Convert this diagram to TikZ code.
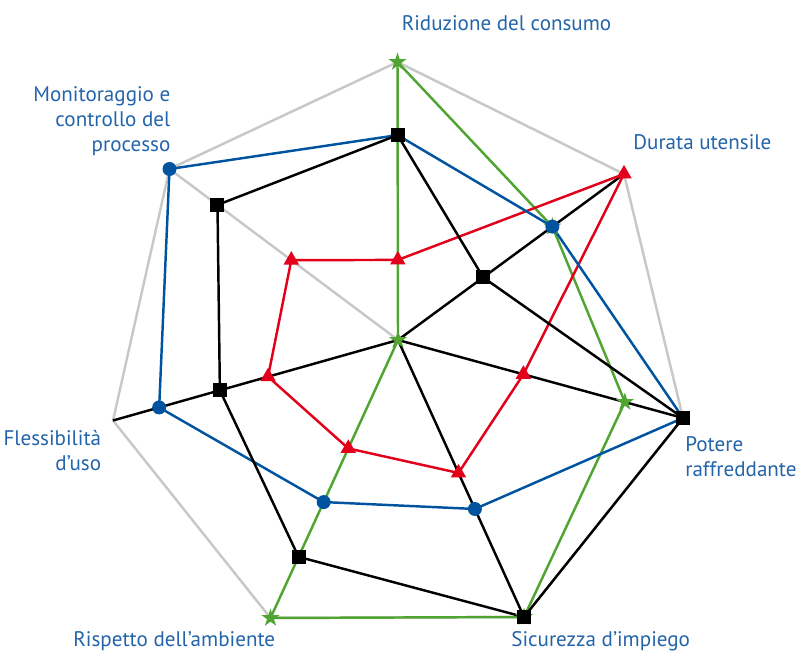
\documentclass[tikz,border=0pt]{standalone}
\usepackage{fontspec}
\setmainfont{PT Sans}
\usetikzlibrary{calc,shapes.geometric}
\definecolor{seriesblue}{RGB}{0,84,159}
\definecolor{seriesred}{RGB}{226,0,26}
\definecolor{seriesgreen}{RGB}{80,165,50}
\definecolor{gridgray}{RGB}{200,200,200}
\definecolor{labelblue}{RGB}{35,100,170}

\begin{document}
\begin{tikzpicture}[x=0.02cm,y=-0.02cm,line join=round,
    grid/.style={gridgray,line width=1.4pt},
    serie/.style={line width=1.4pt},
    sq/.style={rectangle,fill=black,minimum size=0.28cm,inner sep=0pt},
    dot/.style={circle,fill=seriesblue,minimum size=0.28cm,inner sep=0pt},
    tri/.style={regular polygon,regular polygon sides=3,fill=seriesred,minimum size=0.36cm,inner sep=0pt},
    stern/.style={star,star points=5,star point ratio=2.6,fill=seriesgreen,minimum size=0.38cm,inner sep=0pt},
    lab/.style={text=labelblue,font=\fontsize{12}{14.2}\selectfont,inner sep=0pt}]
    \useasboundingbox (0,0) rectangle (800,651);
    %axes
    \coordinate (O) at (398,340);
    \coordinate (A0) at (397.5,62);
    \coordinate (A1) at (624,174);
    \coordinate (A2) at (683,418);
    \coordinate (A3) at (524,617);
    \coordinate (A4) at (270.5,618);
    \coordinate (A5) at (113,420.5);
    \coordinate (A6) at (169.5,169);
    \draw[grid] (A0)--(A1)--(A2)--(A3)--(A4)--(A5)--(A6)--cycle;
    \draw[grid] (O)--(A6);
    \foreach \k in {1,2,3,5} \draw[serie] (O)--(A\k);
    %labels (base = last line)
    \node[lab,anchor=base] (consumo) at (506.5,31) {Riduzione del consumo};
    \node[lab,anchor=base west] (durata) at (633,150) {Durata utensile};
    \node[lab,anchor=base west,align=left] (potere) at (685,476.5) {Potere\\raffreddante};
    \node[lab,anchor=base west] (sicurezza) at (511,646) {Sicurezza d’impiego};
    \node[lab,anchor=base west] (ambiente) at (73,646) {Rispetto dell’ambiente};
    \node[lab,anchor=base east,align=right] (flessibilita) at (101.5,470.5) {Flessibilità\\d’uso};
    \node[lab,anchor=base east,align=right] (monitoraggio) at (170.7,151.7) {Monitoraggio e\\controllo del\\processo};
    %green
    \coordinate (g0) at (A0);
    \coordinate (g1) at ($(O)!0.683!(A1)$);
    \coordinate (g2) at ($(O)!0.796!(A2)$);
    \coordinate (g3) at (A3);
    \coordinate (g4) at (A4);
    \coordinate (g5) at (O);
    \draw[serie,seriesgreen] (g0)--(g1)--(g2)--(g3)--(g4)--(g5)--cycle;
    %red
    \coordinate (r0) at ($(O)!0.288!(A0)$);
    \coordinate (r1) at (A1);
    \coordinate (r2) at ($(O)!0.44!(A2)$);
    \coordinate (r3) at ($(O)!0.48!(A3)$);
    \coordinate (r4) at ($(O)!0.39!(A4)$);
    \coordinate (r5) at ($(O)!0.456!(A5)$);
    \coordinate (r6) at ($(O)!0.467!(A6)$);
    \draw[serie,seriesred] (r0)--(r1)--(r2)--(r3)--(r4)--(r5)--(r6)--cycle;
    %blue
    \coordinate (b0) at ($(O)!0.737!(A0)$);
    \coordinate (b1) at ($(O)!0.683!(A1)$);
    \coordinate (b2) at (A2);
    \coordinate (b3) at ($(O)!0.61!(A3)$);
    \coordinate (b4) at ($(O)!0.583!(A4)$);
    \coordinate (b5) at ($(O)!0.838!(A5)$);
    \coordinate (b6) at (A6);
    \draw[serie,seriesblue] (b0)--(b1)--(b2)--(b3)--(b4)--(b5)--(b6)--cycle;
    %black
    \coordinate (k0) at ($(O)!0.737!(A0)$);
    \coordinate (k1) at ($(O)!0.377!(A1)$);
    \coordinate (k2) at (A2);
    \coordinate (k3) at (A3);
    \coordinate (k4) at ($(O)!0.78!(A4)$);
    \coordinate (k5) at ($(O)!0.625!(A5)$);
    \coordinate (k6) at ($(O)!0.79!(A6)$);
    \draw[serie] (k0)--(k1)--(k2)--(k3)--(k4)--(k5)--(k6)--cycle;
    %markers
    \foreach \i in {0,...,5} \node[stern] (gm\i) at (g\i) {};
    \foreach \i in {0,...,6} \node[tri] (rm\i) at (r\i) {};
    \foreach \i in {0,...,6} \node[dot] (bm\i) at (b\i) {};
    \foreach \i in {0,...,6} \node[sq] (km\i) at (k\i) {};
\end{tikzpicture}
\end{document}
